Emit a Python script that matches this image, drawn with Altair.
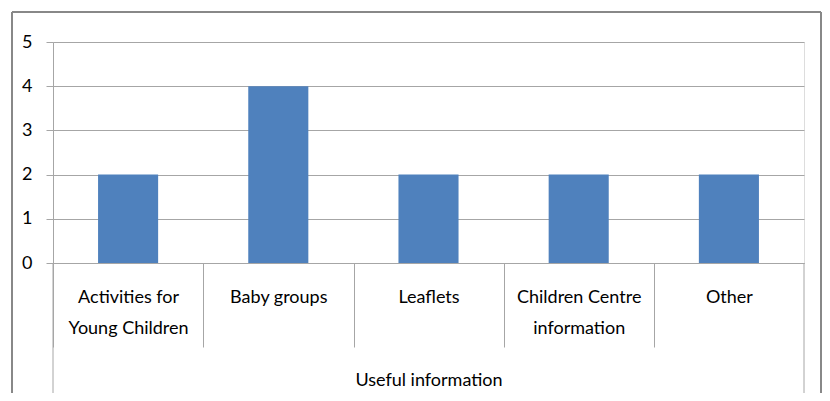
import altair as alt
import pandas as pd

categories = ["Activities for|Young Children", "Baby groups", "Leaflets",
              "Children Centre|information", "Other"]
values = [2, 4, 2, 2, 2]
y_ticks = [0, 1, 2, 3, 4, 5]
axis_title = "Useful information"

df = pd.DataFrame({"category": categories, "value": values})

FONT = "Lato, Roboto, sans-serif"
GRID = "#a6a6a6"
W, H = 751, 221

bars = alt.Chart(df).mark_bar(color="#4f81bd").encode(
    x=alt.X("category:N", sort=None,
            scale=alt.Scale(paddingInner=0.6, paddingOuter=0.3),
            axis=alt.Axis(title=axis_title, labelExpr="split(datum.label, '|')",
                          labelAngle=0, tickSize=84, tickOffset=-75, labelOffset=75,
                          labelPadding=-59, labelLineHeight=31, tickColor=GRID,
                          domainColor=GRID, labelFontSize=18, titleFontSize=18,
                          titleFontWeight="normal", titlePadding=24,
                          labelColor="#000", titleColor="#000",
                          labelFont=FONT, titleFont=FONT)),
    y=alt.Y("value:Q", scale=alt.Scale(domain=[0, 5]),
            axis=alt.Axis(title=None, values=y_ticks, tickSize=7, tickColor=GRID,
                          domainColor=GRID, gridColor=GRID, labelPadding=14,
                          labelFontSize=18, labelColor="#000", labelFont=FONT)),
)

one = alt.Data(values=[{"a": 1}])
line_style = dict(color=GRID, strokeWidth=1)
border_style = dict(color="#888888", strokeWidth=2)

y_ext = alt.Chart(one).mark_rule(**line_style).encode(
    x=alt.value(0), y=alt.value(H), y2=alt.value(H + 132))
right_ext = alt.Chart(one).mark_rule(**line_style).encode(
    x=alt.value(W), y=alt.value(H), y2=alt.value(H + 134))
border_left = alt.Chart(one).mark_rule(**border_style).encode(
    x=alt.value(-41), y=alt.value(-30), y2=alt.value(H + 140))
border_top = alt.Chart(one).mark_rule(**border_style).encode(
    x=alt.value(-41), x2=alt.value(768), y=alt.value(-30))
border_right = alt.Chart(one).mark_rule(**border_style).encode(
    x=alt.value(768), y=alt.value(-30), y2=alt.value(H + 140))

chart = alt.layer(bars, y_ext, right_ext, border_left, border_top, border_right).properties(
    width=W, height=H,
    autosize=alt.AutoSizeParams(type="none"),
    padding={"left": 45, "top": 34, "right": 18, "bottom": 130},
).configure_view(stroke=None).configure(background="white")

chart.save("out.html", embed_options={"renderer": "svg", "actions": False})
